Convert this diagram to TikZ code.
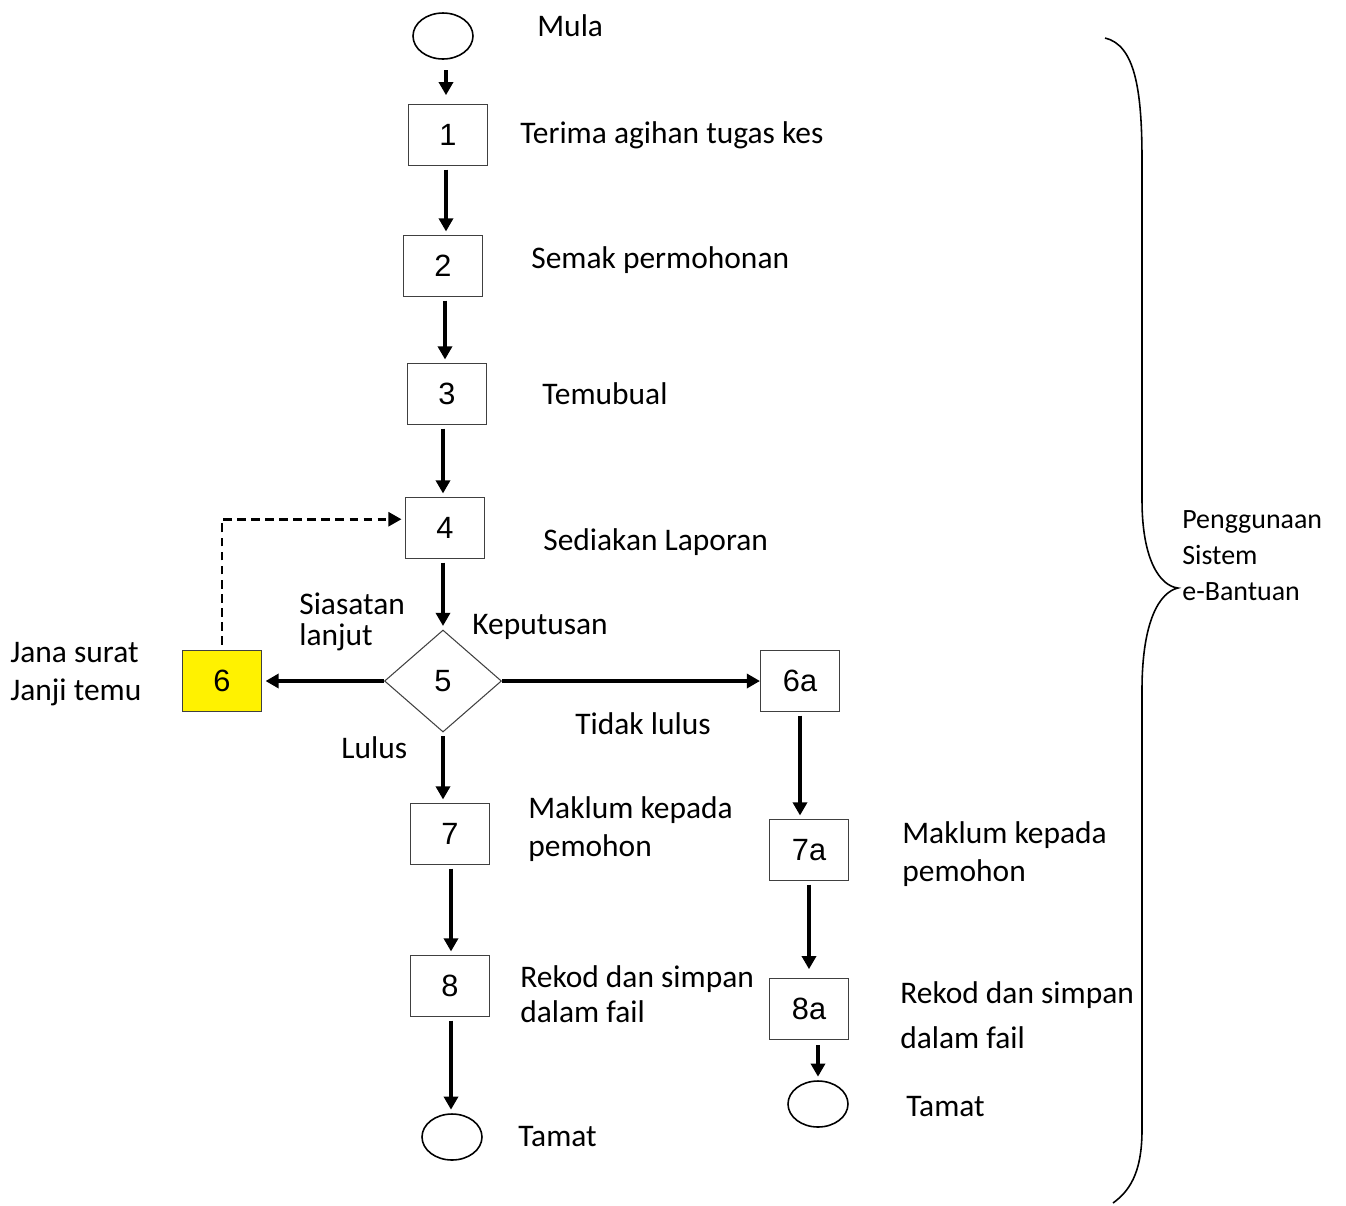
\documentclass[tikz,border=0pt]{standalone}
\usepackage{fontspec}
\setmainfont{Carlito}
\newfontfamily\numfont{Liberation Sans}
\usetikzlibrary{arrows.meta,shapes.geometric}

\begin{document}
\begin{tikzpicture}[x=0.02cm, y=-0.02cm,
	kotak/.style={draw=black!75, line width=0.6pt, minimum width=1.58cm, minimum height=1.22cm, inner sep=0pt, font=\numfont\fontsize{17.5}{20}\selectfont},
	bujur/.style={draw, ellipse, line width=0.9pt, minimum width=1.2cm, minimum height=0.92cm, inner sep=0pt},
	putus/.style={draw=black!75, diamond, line width=0.6pt, minimum width=2.34cm, minimum height=2.04cm, inner sep=0pt, font=\numfont\fontsize{17.5}{20}\selectfont},
	teks/.style={anchor=west, align=left, inner sep=0pt, font=\fontsize{17.9}{22}\selectfont},
	anak/.style={-{Triangle[length=7.5pt,width=8pt]}, line width=1.9pt, shorten <=2pt, shorten >=2pt}]

	\useasboundingbox (0,0) rectangle (1346,1205);

	\node[bujur] (mula) at (443,36) {};
	\node[kotak] (n1) at (448,135) {1};
	\node[kotak] (n2) at (443,266) {2};
	\node[kotak] (n3) at (447,394) {3};
	\node[kotak] (n4) at (445,528) {4};
	\node[putus] (n5) at (443,681) {5};
	\node[kotak, fill=yellow] (n6) at (222,681) {6};
	\node[kotak] (n6a) at (800,681) {6a};
	\node[kotak] (n7) at (450,834) {7};
	\node[kotak] (n8) at (450,986) {8};
	\node[bujur] (tamat) at (452,1137) {};
	\node[kotak] (n7a) at (809,850) {7a};
	\node[kotak] (n8a) at (809,1009) {8a};
	\node[bujur] (tamata) at (818,1104) {};

	\draw[anak, shorten <=6pt, shorten >=5pt] (mula.south -| 446,0) -- (n1.north -| 446,0);
	\draw[anak] (n1.south -| 446,0) -- (n2.north -| 446,0);
	\draw[anak] (n2.south -| 445,0) -- (n3.north -| 445,0);
	\draw[anak] (n3.south -| 443,0) -- (n4.north -| 443,0);
	\draw[anak] (n4.south -| n5) -- (n5.north);
	\draw[anak, shorten <=0pt] (n5.west) -- (n6.east);
	\draw[anak, shorten <=0pt, shorten >=0pt] (n5.east) -- (n6a.west);
	\draw[anak, line width=1.6pt, dash pattern=on 5pt off 3pt, shorten <=3pt] (n6.north) |- ([yshift=5pt]n4.west);
	\draw[anak] (n5.south) -- (n7.north -| n5);
	\draw[anak] (n7.south -| 451,0) -- (n8.north -| 451,0);
	\draw[anak] (n8.south -| 451,0) -- (tamat.north -| 451,0);
	\draw[anak] (n6a.south) -- (n7a.north -| n6a);
	\draw[anak, shorten >=5pt] (n7a.south) -- (n8a.north);
	\draw[anak, shorten <=3pt] (n8a.south -| tamata) -- (tamata.north);

	\node[teks] (t0) at (537,26) {Mula};
	\node[teks] (t1) at (520,135) {Terima agihan tugas kes};
	\node[teks] (t2) at (531,260) {Semak permohonan};
	\node[teks] (t3) at (542,394) {Temubual};
	\node[teks] (t4) at (543,542) {Sediakan Laporan};
	\node[teks] (t5) at (472,627) {Keputusan};
	\node[teks, font=\fontsize{17.9}{18}\selectfont] (t5b) at (299,622) {Siasatan\\lanjut};
	\node[teks] (t6) at (10,674) {Jana surat\\Janji temu};
	\node[teks] (t6a) at (575,724) {Tidak lulus};
	\node[teks] (t5c) at (341,748) {Lulus};
	\node[teks] (t7) at (528,829) {Maklum kepada\\pemohon};
	\node[teks, font=\fontsize{17.9}{20}\selectfont] (t8) at (520,994) {Rekod dan simpan\\dalam fail};
	\node[teks] (t9) at (518,1137) {Tamat};
	\node[teks] (t7a) at (902,854) {Maklum kepada\\pemohon};
	\node[teks, font=\fontsize{17.9}{25.5}\selectfont] (t8a) at (900,1015) {Rekod dan simpan\\dalam fail};
	\node[teks] (t9a) at (906,1107) {Tamat};
	\node[teks, font=\fontsize{15.9}{20.5}\selectfont] (sistem) at (1182,556) {Penggunaan\\Sistem\\e-Bantuan};

	\draw[line width=0.9pt] (1105,38) .. controls (1135,45) and (1142,90) .. (1142,160)
		-- (1142,500) .. controls (1142,560) and (1160,586) .. (1178,588)
		.. controls (1160,592) and (1142,620) .. (1142,690)
		-- (1142,1130) .. controls (1142,1175) and (1128,1192) .. (1113,1203);

\end{tikzpicture}
\end{document}
